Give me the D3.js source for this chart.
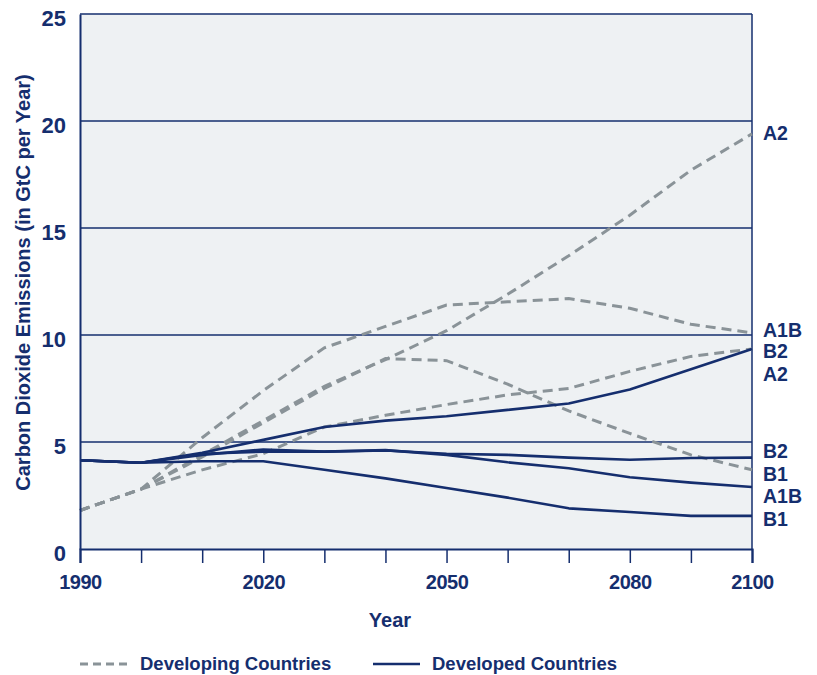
<!DOCTYPE html>
<html>
<head>
<meta charset="utf-8">
<script src="https://cdn.jsdelivr.net/npm/d3@7"></script>
<style>
  html, body { margin: 0; padding: 0; background: #ffffff; }
  svg { display: block; }
  text { font-family: "Liberation Sans", Arial, sans-serif; font-weight: bold; fill: #152e6e; }
</style>
</head>
<body>
<svg id="chart" width="817" height="675"></svg>
<script>
// ---- data ----
const years = [1990, 2000, 2010, 2020, 2030, 2040, 2050, 2060, 2070, 2080, 2090, 2100];

// Developing countries (dashed)
const devA1B = [1.8, 2.8, 5.2, 7.4, 9.4, 10.4, 11.4, 11.55, 11.7, 11.25, 10.5, 10.1];
const devA2  = [1.8, 2.8, 4.4, 6.0, 7.6, 8.85, 10.2, 11.9, 13.7, 15.6, 17.7, 19.4];
const devB1  = [1.8, 2.8, 4.3, 5.9, 7.5, 8.9, 8.8, 7.7, 6.45, 5.4, 4.4, 3.7];
const devB2  = [1.8, 2.8, 3.7, 4.45, 5.7, 6.25, 6.75, 7.2, 7.5, 8.3, 9.0, 9.35];

// Developed countries (solid)
const indA2  = [4.15, 4.03, 4.5, 5.1, 5.7, 6.0, 6.2, 6.5, 6.8, 7.45, 8.4, 9.35];
const indB2  = [4.15, 4.03, 4.45, 4.55, 4.55, 4.6, 4.45, 4.4, 4.27, 4.17, 4.25, 4.27];
const indA1B = [4.15, 4.03, 4.4, 4.65, 4.55, 4.62, 4.4, 4.05, 3.77, 3.35, 3.1, 2.9];
const indB1  = [4.15, 4.03, 4.1, 4.1, 3.7, 3.3, 2.85, 2.4, 1.9, 1.73, 1.55, 1.55];

const developingSeries = [devA1B, devA2, devB1, devB2];
const developedSeries = [indA2, indB2, indA1B, indB1];

// End labels (scenario name, value level where the label sits)
const endLabelNames  = ["A2", "A1B", "B2", "A2", "B2", "B1", "A1B", "B1"];
const endLabelLevels = [19.45, 10.25, 9.25, 8.2, 4.6, 3.5, 2.5, 1.42];

const yTicks = [0, 5, 10, 15, 20, 25];
const xTickYears = [1990, 2000, 2010, 2020, 2030, 2040, 2050, 2060, 2070, 2080, 2090, 2100];
const xLabelYears = [1990, 2020, 2050, 2080, 2100];
const legendNames = ["Developing Countries", "Developed Countries"];
const yTitle = "Carbon Dioxide Emissions (in GtC per Year)";
const xTitle = "Year";

// ---- layout ----
const NAVY = "#152e6e";
const GREY = "#8a9398";
const BG = "#eef1f3";
const mLeft = 80, mRight = 752, mTop = 14, mBottom = 549;

const svg = d3.select("#chart");
const x = d3.scaleLinear().domain([1990, 2100]).range([mLeft, mRight]);
const y = d3.scaleLinear().domain([0, 25]).range([mBottom, mTop]);

// background
svg.append("rect").attr("x", mLeft).attr("y", mTop)
  .attr("width", mRight - mLeft).attr("height", mBottom - mTop).attr("fill", BG);

// gridlines
svg.append("g").selectAll("line").data(yTicks.filter(d => d > 0 && d < 25)).join("line")
  .attr("x1", mLeft).attr("x2", mRight)
  .attr("y1", d => y(d)).attr("y2", d => y(d))
  .attr("stroke", NAVY).attr("stroke-width", 1.3);

// frame top & right
svg.append("line").attr("x1", mLeft).attr("x2", mRight).attr("y1", mTop).attr("y2", mTop)
  .attr("stroke", NAVY).attr("stroke-width", 1.5);
svg.append("line").attr("x1", mRight).attr("x2", mRight).attr("y1", mTop).attr("y2", mBottom)
  .attr("stroke", NAVY).attr("stroke-width", 1.5);

// lines
const line = d3.line().x((d, i) => x(years[i])).y(d => y(d));

svg.append("g").selectAll("path").data(developingSeries).join("path")
  .attr("d", line).attr("fill", "none").attr("stroke", GREY)
  .attr("stroke-width", 3).attr("stroke-dasharray", "10,6");

svg.append("g").selectAll("path").data(developedSeries).join("path")
  .attr("d", line).attr("fill", "none").attr("stroke", NAVY)
  .attr("stroke-width", 2.6).attr("stroke-linejoin", "round");

// y axis
const yAxis = d3.axisLeft(y).tickValues(yTicks).tickSize(0).tickPadding(14);
const gy = svg.append("g").attr("transform", `translate(${mLeft},0)`).call(yAxis);
gy.select(".domain").attr("stroke", NAVY).attr("stroke-width", 2);
gy.selectAll("text").attr("font-size", 22).attr("fill", NAVY)
  .attr("font-family", "Liberation Sans, Arial, sans-serif").attr("font-weight", "bold")
  .attr("dy", "0.5em");

// x axis
const xAxis = d3.axisBottom(x).tickValues(xTickYears).tickSize(14)
  .tickFormat(d => xLabelYears.includes(d) ? d : "").tickPadding(12);
const gx = svg.append("g").attr("transform", `translate(0,${mBottom})`).call(xAxis);
gx.select(".domain").attr("stroke", NAVY).attr("stroke-width", 2.2);
gx.selectAll(".tick line").attr("stroke", NAVY).attr("stroke-width", 1.5);
gx.selectAll("text").attr("font-size", 20).attr("fill", NAVY)
  .attr("font-family", "Liberation Sans, Arial, sans-serif").attr("font-weight", "bold")
  .attr("letter-spacing", "-0.5px");

// axis titles
svg.append("text").attr("x", (mLeft + mRight) / 2 - 26).attr("y", 627)
  .attr("text-anchor", "middle").attr("font-size", 20).text(xTitle);
svg.append("text").attr("transform", `translate(30,${(mTop + mBottom) / 2 + 1}) rotate(-90)`)
  .attr("text-anchor", "middle").attr("font-size", 20).text(yTitle);

// end labels
svg.append("g").selectAll("text").data(endLabelNames).join("text")
  .attr("x", mRight + 11).attr("y", (d, i) => y(endLabelLevels[i]))
  .attr("dy", "0.36em").attr("font-size", 19.5).text(d => d);

// legend
const lg = svg.append("g");
lg.append("line").attr("x1", 80).attr("x2", 128).attr("y1", 664).attr("y2", 664)
  .attr("stroke", GREY).attr("stroke-width", 3).attr("stroke-dasharray", "8,5");
lg.append("text").attr("x", 140).attr("y", 670).attr("font-size", 18.5).text(legendNames[0]);
lg.append("line").attr("x1", 373).attr("x2", 420).attr("y1", 664).attr("y2", 664)
  .attr("stroke", NAVY).attr("stroke-width", 2.6);
lg.append("text").attr("x", 432).attr("y", 670).attr("font-size", 18.5).text(legendNames[1]);
</script>
</body>
</html>
